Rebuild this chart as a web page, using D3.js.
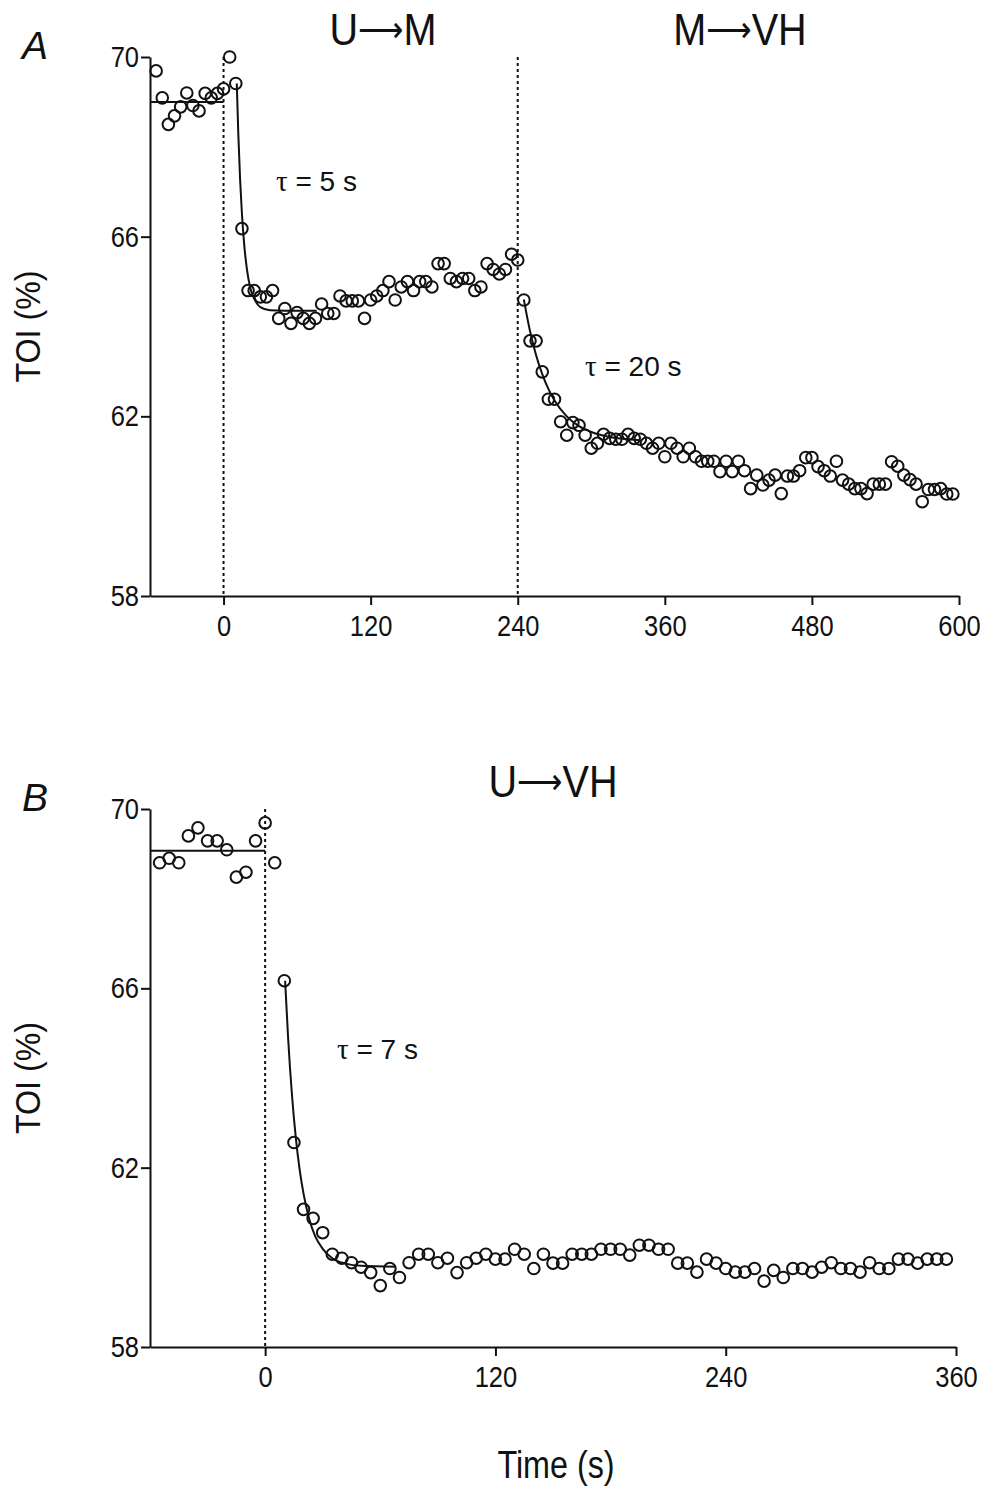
<!DOCTYPE html>
<html>
<head>
<meta charset="utf-8">
<script src="https://cdn.jsdelivr.net/npm/d3@7"></script>
<style>
    body { margin: 0; background: #fff; }
    svg text { font-family: "Liberation Sans", Arial, sans-serif; fill: #111; }
</style>
</head>
<body>
<div id="figure"></div>
<script>
// Panel A: U -> M -> VH, one sample every 5 s
const timeA = [-55, -50, -45, -40, -35, -30, -25, -20, -15, -10, -5, 0, 5, 10, 15, 20, 25, 30, 35, 40,
    45, 50, 55, 60, 65, 70, 75, 80, 85, 90, 95, 100, 105, 110, 115, 120, 125, 130, 135, 140,
    145, 150, 155, 160, 165, 170, 175, 180, 185, 190, 195, 200, 205, 210, 215, 220, 225, 230, 235, 240,
    245, 250, 255, 260, 265, 270, 275, 280, 285, 290, 295, 300, 305, 310, 315, 320, 325, 330, 335, 340,
    345, 350, 355, 360, 365, 370, 375, 380, 385, 390, 395, 400, 405, 410, 415, 420, 425, 430, 435, 440,
    445, 450, 455, 460, 465, 470, 475, 480, 485, 490, 495, 500, 505, 510, 515, 520, 525, 530, 535, 540,
    545, 550, 555, 560, 565, 570, 575, 580, 585, 590, 595];
const toiA = [69.69, 69.09, 68.50, 68.69, 68.89, 69.20, 68.92, 68.80, 69.19, 69.09, 69.19, 69.29, 70.0, 69.41, 66.18, 64.80, 64.80, 64.66, 64.66, 64.80,
    64.18, 64.40, 64.07, 64.31, 64.18, 64.07, 64.18, 64.50, 64.29, 64.29, 64.68, 64.57, 64.57, 64.57, 64.18, 64.59, 64.68, 64.80, 65.0, 64.59,
    64.88, 65.0, 64.80, 65.0, 65.0, 64.88, 65.40, 65.40, 65.07, 65.0, 65.07, 65.07, 64.80, 64.88, 65.40, 65.27, 65.17, 65.27, 65.61, 65.48,
    64.59, 63.68, 63.68, 62.99, 62.38, 62.38, 61.88, 61.58, 61.86, 61.80, 61.58, 61.29, 61.40, 61.60, 61.51, 61.49, 61.49, 61.60, 61.51, 61.49,
    61.40, 61.29, 61.40, 61.10, 61.40, 61.29, 61.10, 61.29, 61.10, 61.0, 61.0, 61.0, 60.77, 61.0, 60.77, 61.0, 60.79, 60.39, 60.69, 60.47,
    60.58, 60.69, 60.28, 60.67, 60.67, 60.79, 61.08, 61.08, 60.88, 60.79, 60.67, 61.0, 60.58, 60.49, 60.39, 60.39, 60.28, 60.49, 60.49, 60.49,
    60.99, 60.89, 60.69, 60.59, 60.49, 60.10, 60.37, 60.37, 60.39, 60.27, 60.27];

// Panel B: U -> VH
const timeB = [-55, -50, -45, -40, -35, -30, -25, -20, -15, -10, -5, 0, 5, 10, 15, 20, 25, 30, 35, 40,
    45, 50, 55, 60, 65, 70, 75, 80, 85, 90, 95, 100, 105, 110, 115, 120, 125, 130, 135, 140,
    145, 150, 155, 160, 165, 170, 175, 180, 185, 190, 195, 200, 205, 210, 215, 220, 225, 230, 235, 240,
    245, 250, 255, 260, 265, 270, 275, 280, 285, 290, 295, 300, 305, 310, 315, 320, 325, 330, 335, 340,
    345, 350, 355];
const toiB = [68.80, 68.90, 68.80, 69.40, 69.58, 69.29, 69.29, 69.09, 68.48, 68.59, 69.29, 69.69, 68.80, 66.17, 62.56, 61.07, 60.87, 60.55, 60.07, 59.98,
    59.88, 59.78, 59.66, 59.37, 59.75, 59.55, 59.88, 60.07, 60.07, 59.88, 59.98, 59.66, 59.88, 59.98, 60.07, 59.96, 59.96, 60.18, 60.07, 59.75,
    60.07, 59.87, 59.87, 60.07, 60.07, 60.07, 60.18, 60.18, 60.18, 60.05, 60.27, 60.27, 60.18, 60.18, 59.87, 59.87, 59.67, 59.96, 59.87, 59.75,
    59.67, 59.67, 59.75, 59.47, 59.71, 59.55, 59.75, 59.75, 59.67, 59.78, 59.88, 59.75, 59.75, 59.67, 59.88, 59.75, 59.75, 59.96, 59.96, 59.87,
    59.96, 59.96, 59.96];

// fitted lines as [time, TOI]
const baseA = [[-60, 69.0], [0, 69.0]];
const fitA1 = [[10.8, 69.41], [12, 68.32], [13.5, 67.28], [15, 66.51], [17, 65.78], [19, 65.29], [22, 64.84],
    [25, 64.62], [30, 64.43], [38, 64.36], [50, 64.35], [76, 64.35]];
const fitA2 = [[245, 64.6], [250, 63.9], [255, 63.36], [260, 62.94], [265, 62.61], [270, 62.35], [280, 62.0],
    [290, 61.78], [300, 61.65], [315, 61.54], [340, 61.47]];
const baseB = [[-60, 69.07], [0, 69.07]];
const fitB = [[10.4, 66.17], [12, 64.87], [14, 63.61], [16, 62.66], [18, 61.95], [20, 61.42], [23, 60.85],
    [26, 60.48], [30, 60.19], [35, 59.98], [42, 59.86], [50, 59.81], [68, 59.79]];

const yTicks = [58, 62, 66, 70];
const xTicksA = [0, 120, 240, 360, 480, 600];
const xTicksB = [0, 120, 240, 360];
const stepsA = [0, 240];          // dotted lines at the workload steps
const stepsB = [0];
const headA = [["U", "M"], ["M", "VH"]];
const headB = [["U", "VH"]];
const tauA = ["5 s", "20 s"];
const tauB = ["7 s"];

// the original lettering is a narrow sans, squeeze Liberation a bit
const NARROW = 0.85;

render();

function render() {
    const svg = d3.select('#figure').append('svg')
        .attr('width', 990)
        .attr('height', 1488);

    panel(svg, {
        letter: 'A', times: timeA, values: toiA, fits: [baseA, fitA1, fitA2],
        xDomain: [-60, 600], xRange: [150, 959], yRange: [596, 57],
        xTicks: xTicksA, steps: stepsA
    });
    panel(svg, {
        letter: 'B', times: timeB, values: toiB, fits: [baseB, fitB],
        xDomain: [-60, 360], xRange: [150, 956], yRange: [1347, 809],
        xTicks: xTicksB, steps: stepsB
    });

    // headings above each phase
    heading(svg, 383, 45, headA[0]);
    heading(svg, 740, 45, headA[1]);
    heading(svg, 553, 797, headB[0]);

    tau(svg, 276, 191, tauA[0]);
    tau(svg, 585, 376, tauA[1]);
    tau(svg, 337, 1059, tauB[0]);

    svg.append('text')
        .attr('transform', `translate(556,1478) scale(${NARROW},1)`)
        .attr('text-anchor', 'middle')
        .style('font-size', '38px').text('Time (s)');
}

function heading(svg, x, y, parts) {
    const t = svg.append('text')
        .attr('transform', `translate(${x},${y}) scale(0.88,1)`)
        .attr('text-anchor', 'middle')
        .style('font-size', '45px');
    t.append('tspan').text(parts[0]);
    // long thin arrow like the original
    t.append('tspan').style('font-family', '"DejaVu Sans", sans-serif').style('font-size', '36px')
        .attr('dy', -3).text('\u27f6');
    t.append('tspan').attr('dy', 3).text(parts[1]);
}

function tau(svg, x, y, label) {
    const t = svg.append('text')
        .attr('transform', `translate(${x},${y})`)
        .style('font-size', '28px');
    t.append('tspan').style('font-family', '"Liberation Serif", serif').style('font-size', '29px').text('\u03c4');
    t.append('tspan').text(' = ' + label);
}

function squeeze(sel) {
    // move x/y into a transform so the horizontal squeeze keeps the anchor point
    sel.each(function () {
        const s = d3.select(this);
        const tx = +s.attr('x') || 0, ty = +s.attr('y') || 0;
        s.attr('x', 0).attr('y', 0)
            .attr('transform', `translate(${tx},${ty}) scale(${NARROW},1)`);
    });
}

function panel(svg, props) {
    const { letter, times, values, fits, xDomain, xRange, yRange, xTicks, steps } = props;

    const x = d3.scaleLinear().domain(xDomain).range(xRange);
    const y = d3.scaleLinear().domain([58, 70]).range(yRange);

    const g = svg.append('g');

    // axes
    const xAxis = g.append('g')
        .attr('transform', `translate(0,${yRange[0]})`)
        .call(d3.axisBottom(x).tickValues(xTicks).tickSize(9).tickSizeOuter(0).tickPadding(10));
    const yAxis = g.append('g')
        .attr('transform', `translate(${xRange[0]},0)`)
        .call(d3.axisLeft(y).tickValues(yTicks).tickSize(9).tickSizeOuter(0).tickPadding(2));

    [xAxis, yAxis].forEach(a => {
        a.selectAll('path, line').attr('stroke', '#111').attr('stroke-width', 2);
        a.selectAll('text').style('font-size', '30px').attr('fill', '#111')
            .style('font-family', '"Liberation Sans", Arial, sans-serif')
            .call(squeeze);
    });

    // dotted step markers
    g.selectAll('line.step')
        .data(steps)
        .join('line')
        .attr('class', 'step')
        .attr('x1', d => x(d)).attr('x2', d => x(d))
        .attr('y1', y(70)).attr('y2', y(58))
        .attr('stroke', '#111')
        .attr('stroke-width', 2)
        .attr('stroke-dasharray', '3,3');

    // fitted curves
    const line = d3.line()
        .x(d => x(d[0]))
        .y(d => y(d[1]))
        .curve(d3.curveMonotoneX);

    g.selectAll('path.fit')
        .data(fits)
        .join('path')
        .attr('class', 'fit')
        .attr('d', line)
        .attr('fill', 'none')
        .attr('stroke', '#111')
        .attr('stroke-width', 2);

    // data points
    g.selectAll('circle')
        .data(times.map((t, i) => [t, values[i]]))
        .join('circle')
        .attr('cx', d => x(d[0]))
        .attr('cy', d => y(d[1]))
        .attr('r', 5.8)
        .attr('fill', 'none')
        .attr('stroke', '#111')
        .attr('stroke-width', 2);

    // panel letter and y label
    g.append('text')
        .attr('x', 35).attr('y', yRange[1] + 2)
        .attr('text-anchor', 'middle')
        .style('font-size', '39px').style('font-style', 'italic')
        .text(letter);

    g.append('text')
        .attr('transform', `translate(40,${(yRange[0] + yRange[1]) / 2}) rotate(-90) scale(0.92,1)`)
        .attr('text-anchor', 'middle')
        .style('font-size', '35px')
        .text('TOI (%)');
}
</script>
</body>
</html>
